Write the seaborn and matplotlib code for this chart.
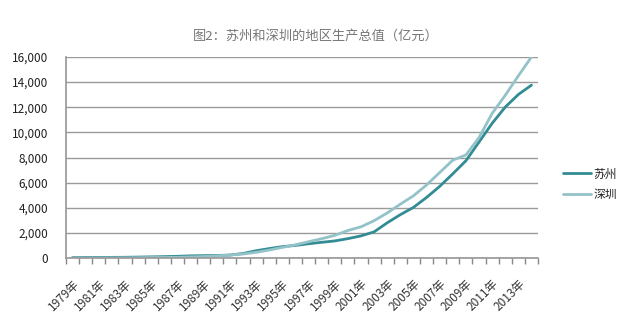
import matplotlib
matplotlib.use("Agg")
import matplotlib.pyplot as plt
import seaborn as sns
import pandas as pd
import numpy as np

years = list(range(1979, 2015))
year_labels = [f"{y}年" for y in years]
suzhou = [35, 42, 46, 50, 57, 73, 91, 110, 135, 170, 190, 202, 232, 359, 578,
          750, 903, 1002, 1133, 1250, 1358, 1541, 1760, 2080, 2802, 3450, 4027,
          4820, 5700, 6701, 7740, 9228, 10717, 12011, 13015, 13760]
shenzhen = [2, 3, 5, 8, 13, 23, 39, 42, 56, 87, 116, 172, 237, 317, 453,
            634, 842, 1048, 1297, 1534, 1804, 2187, 2482, 2970, 3586, 4282, 4951,
            5814, 6802, 7787, 8201, 9582, 11506, 12950, 14500, 16002]
series_names = ["苏州", "深圳"]
title = "图2：苏州和深圳的地区生产总值（亿元）"

sns.set_theme(style="white")
plt.rcParams['font.family'] = ['Noto Sans CJK SC', 'DejaVu Sans']

df = pd.DataFrame({
    "idx": list(range(len(years))) * 2,
    "value": suzhou + shenzhen,
    "city": [series_names[0]] * len(years) + [series_names[1]] * len(years),
})

fig = plt.figure(figsize=(6.37, 3.24), dpi=100)
ax = fig.add_axes([66/637, 1 - 258/324, (538 - 66)/637, (258 - 57)/324])
palette = {series_names[0]: "#338c94", series_names[1]: "#93c3c8"}
sns.lineplot(data=df, x="idx", y="value", hue="city", palette=palette,
             linewidth=2.0, ax=ax, legend=False)

ax.set_xlim(-0.5, len(years) - 0.5)
ax.set_ylim(0, 16000)
ax.set_yticks(range(0, 16001, 2000))
ax.set_yticklabels([f"{v:,}" for v in range(0, 16001, 2000)], fontsize=8.5, color="#222222")
ax.yaxis.grid(True, color="#9a9a9a", linewidth=1.0)
ax.set_axisbelow(True)

ax.set_xticks(range(0, len(years), 2))
ax.set_xticklabels(year_labels[::2], rotation=45, ha="right", rotation_mode="anchor",
                   fontsize=8.5, color="#333333")
ax.set_xticks(np.arange(-0.5, len(years), 1), minor=True)
ax.tick_params(axis="x", which="major", length=0, pad=14)
ax.tick_params(axis="x", which="minor", length=4, color="#888888", direction="out", bottom=True)
ax.tick_params(axis="y", length=0, pad=13)
ax.set_xlabel("")
ax.set_ylabel("")
for s in ["top", "right"]:
    ax.spines[s].set_visible(False)
ax.spines["left"].set_color("#9a9a9a")
ax.spines["bottom"].set_color("#9a9a9a")

fig.text(316/637, 1 - 36/324, title, ha="center", va="center", fontsize=9.5, color="#777777")

from matplotlib.lines import Line2D
handles = [Line2D([], [], color=palette[n], linewidth=2.0) for n in series_names]
leg = fig.legend(handles, series_names, loc="upper left", bbox_to_anchor=(552/637, 1 - 157/324),
                 frameon=False, fontsize=8.5, handlelength=2.4, handletextpad=0.2, labelspacing=0.6)

fig.savefig("out.png", dpi=100, facecolor="white")
